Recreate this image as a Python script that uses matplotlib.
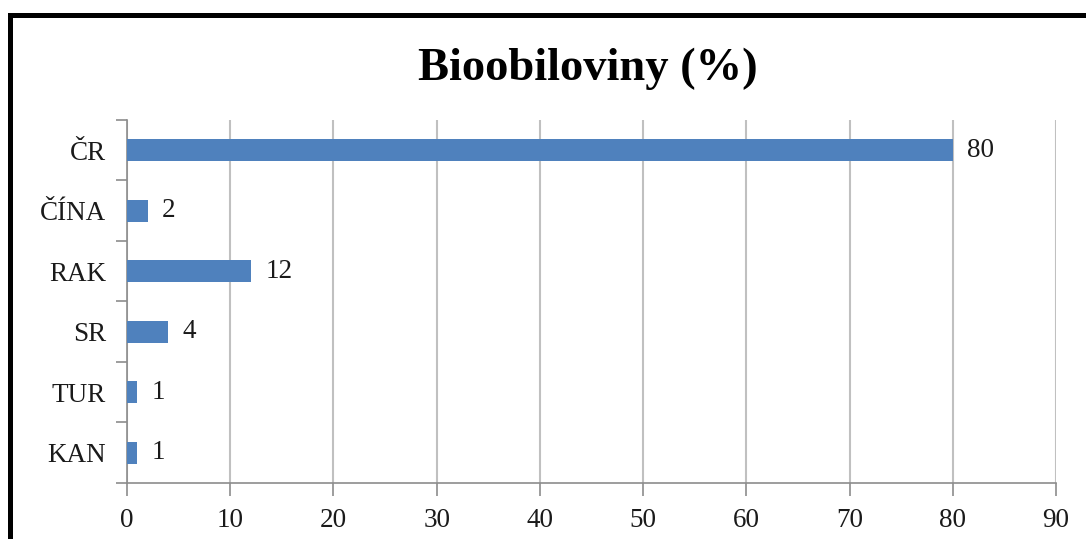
import matplotlib
matplotlib.use('Agg')
import matplotlib.pyplot as plt
from matplotlib.patches import Rectangle
import numpy as np

countries = ['ČR', 'ČÍNA', 'RAK', 'SR', 'TUR', 'KAN']
shares = [80, 2, 12, 4, 1, 1]
xticks = [0, 10, 20, 30, 40, 50, 60, 70, 80, 90]

bar_color = '#4F81BD'
axis_gray = '#8c8c8c'
grid_gray = '#c0c0c0'
label_size = 19.5

plt.rcParams['font.family'] = ['Liberation Serif', 'DejaVu Serif']

fig = plt.figure(figsize=(10.86, 5.39), dpi=100)
ax = fig.add_axes([0.1169, 0.1039, 0.8555, 0.6735])

y = np.arange(len(countries))
ax.barh(y, shares, height=0.37, color=bar_color, zorder=3)
for yi, v in zip(y, shares):
    ax.text(v + 1.4, yi, str(v), va='center', ha='left', fontsize=label_size, color='#1a1a1a')

ax.set_xlim(0, 90)
ax.set_ylim(len(countries) - 0.5, -0.5)
ax.set_xticks(xticks)
ax.set_xticklabels([str(t) for t in xticks], fontsize=label_size, color='#1a1a1a')

# category labels sit between the boundary ticks
ax.set_yticks(y)
ax.set_yticklabels(countries, fontsize=label_size, color='#1a1a1a')
ax.tick_params(axis='y', which='major', length=0, pad=15)
ax.set_yticks(np.arange(len(countries) + 1) - 0.5, minor=True)
ax.tick_params(axis='y', which='minor', length=8, width=1.2, color=axis_gray, direction='out')
ax.tick_params(axis='x', length=9, width=1.2, color=axis_gray, direction='out', pad=9)

ax.grid(axis='x', color=grid_gray, linewidth=1.5, zorder=0)
for side in ['top', 'right']:
    ax.spines[side].set_visible(False)
for side in ['left', 'bottom']:
    ax.spines[side].set_color(axis_gray)
    ax.spines[side].set_linewidth(1.2)

fig.text(0.541, 0.872, 'Bioobiloviny (%)', ha='center', va='center',
         fontsize=33.5, fontweight='bold', color='black')

# outer frame, running off the right and bottom edges
fig.patches.append(Rectangle((0.0088, -0.1), 1.2, 0.1 + 0.972, transform=fig.transFigure,
                             fill=False, edgecolor='black', linewidth=3.6, zorder=10))

fig.savefig('out.png', dpi=100)
